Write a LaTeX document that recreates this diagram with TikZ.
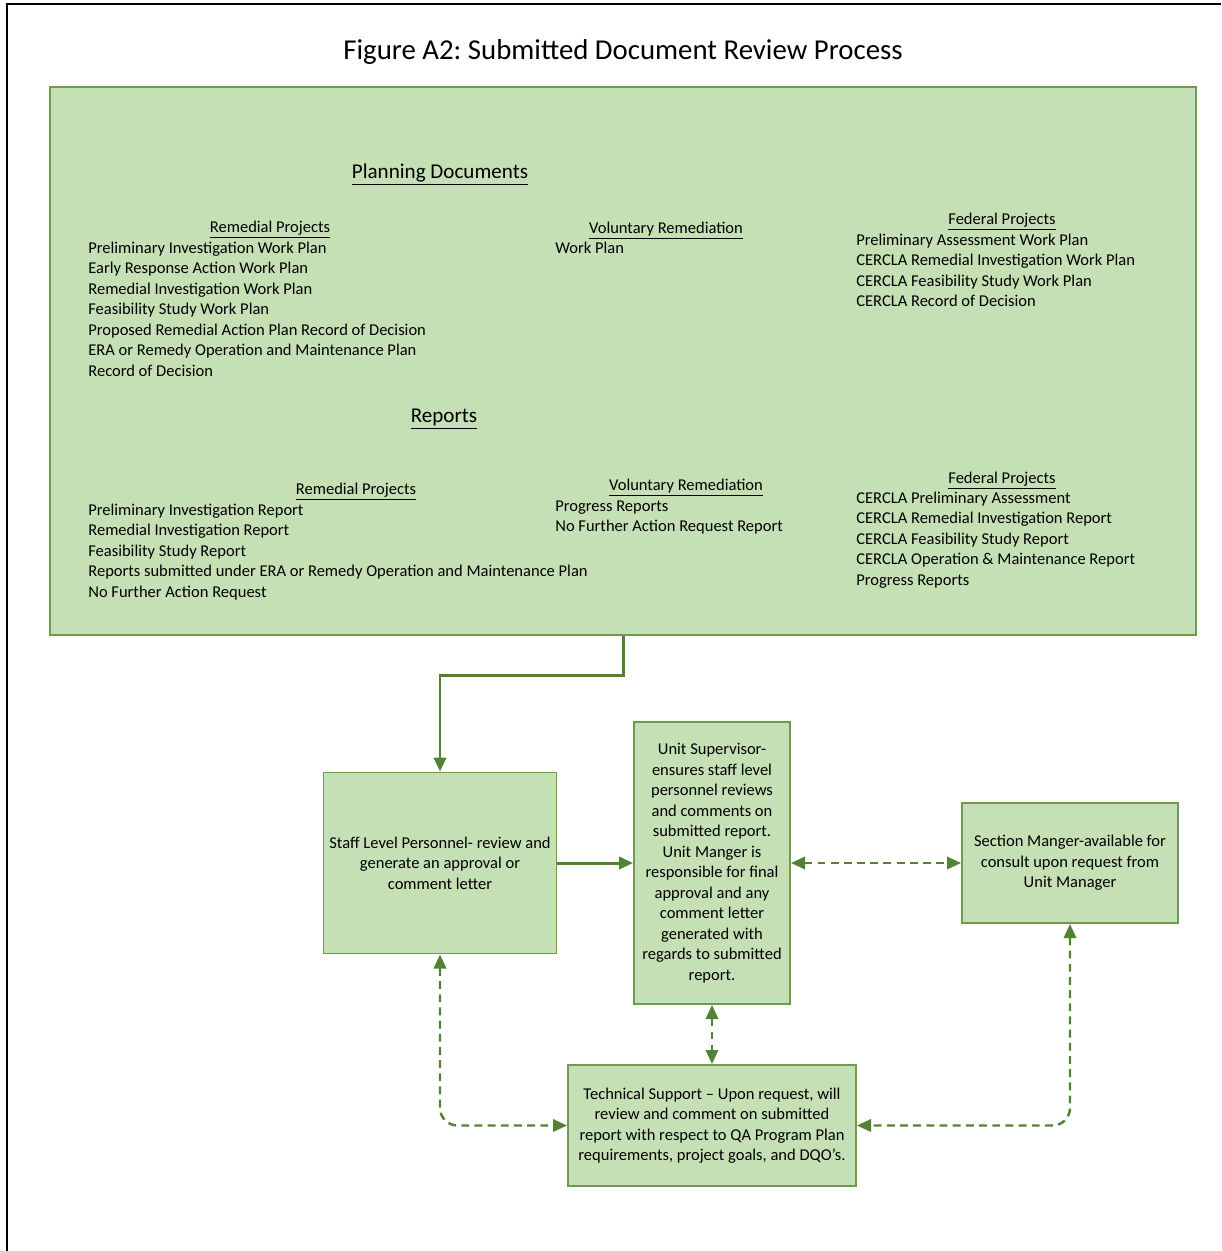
\documentclass[tikz,border=0pt]{standalone}
\usepackage{fontspec}
\setmainfont{Carlito}
\usepackage{xcolor}
\usetikzlibrary{calc,positioning,arrows.meta}

\definecolor{boxfill}{HTML}{C5E0B4}
\definecolor{boxline}{HTML}{6E9B4E}
\definecolor{arrowgreen}{HTML}{548235}

\tikzset{
  lst/.style={anchor=base west,align=left,inner sep=0pt,font=\fontsize{9.4}{11.66}\selectfont},
  subhead/.style={anchor=base,inner sep=0pt,font=\fontsize{9.4}{11.66}\selectfont},
  mainhead/.style={anchor=base,inner sep=0pt,font=\fontsize{12}{14}\selectfont},
  stepbox/.style={draw=boxline,fill=boxfill,line width=1.1pt,align=center,inner sep=2pt,font=\fontsize{9.4}{11.66}\selectfont},
  flow/.style={draw=arrowgreen,line width=1.7pt,-{Triangle[length=8pt,width=7pt]}},
  consult/.style={draw=arrowgreen,line width=1.4pt,dash pattern=on 4.5pt off 3pt,{Triangle[length=8pt,width=7pt]}-{Triangle[length=8pt,width=7pt]}}
}

\begin{document}
\frenchspacing
\begin{tikzpicture}[x=0.02cm,y=-0.02cm]
	\useasboundingbox (0,0) rectangle (1221,1251);
	\draw[line width=1.6pt] (7,1251) -- (7,4) -- (1221,4);
	\node[font=\fontsize{16.4}{19}\selectfont,anchor=base] (title) at (623,59) {Figure A2: Submitted Document Review Process};
	
	% documents block
	\node[draw=boxline,fill=boxfill,line width=1.1pt,minimum width=22.92cm,minimum height=10.96cm,inner sep=0pt] (docs) at (623,361) {};
	\node[mainhead] (planhead) at (440,178) {\underline{Planning Documents}};
	\node[subhead] (planremhead) at (270,232) {\underline{Remedial Projects}};
	\node[lst] (planrem) at (88,376) {Preliminary Investigation Work Plan\\Early Response Action Work Plan\\Remedial Investigation Work Plan\\Feasibility Study Work Plan\\Proposed Remedial Action Plan Record of Decision\\ERA or Remedy Operation and Maintenance Plan\\Record of Decision};
	\node[subhead] (planvolhead) at (666,233) {\underline{Voluntary Remediation}};
	\node[lst] (planvol) at (555,253) {Work Plan};
	\node[subhead] (planfedhead) at (1002,224) {\underline{Federal Projects}};
	\node[lst] (planfed) at (856,306.5) {Preliminary Assessment Work Plan\\CERCLA Remedial Investigation Work Plan\\CERCLA Feasibility Study Work Plan\\CERCLA Record of Decision};
	
	\node[mainhead] (rephead) at (444,422) {\underline{Reports}};
	\node[subhead] (repremhead) at (356,494) {\underline{Remedial Projects}};
	\node[lst] (reprem) at (88,597) {Preliminary Investigation Report\\Remedial Investigation Report\\Feasibility Study Report\\Reports submitted under ERA or Remedy Operation and Maintenance Plan\\No Further Action Request};
	\node[subhead] (repvolhead) at (686,490) {\underline{Voluntary Remediation}};
	\node[lst] (repvol) at (555,531.5) {Progress Reports\\No Further Action Request Report};
	\node[subhead] (repfedhead) at (1002,483) {\underline{Federal Projects}};
	\node[lst] (repfed) at (856,585) {CERCLA Preliminary Assessment\\CERCLA Remedial Investigation Report\\CERCLA Feasibility Study Report\\CERCLA Operation \& Maintenance Report\\Progress Reports};
	
	% review steps
	\node[stepbox,minimum width=4.66cm,minimum height=3.62cm] (staff) at (440,863) {Staff Level Personnel- review and\\generate an approval or\\comment letter};
	\node[stepbox,minimum width=3.12cm,minimum height=5.64cm] (unitsup) at (712,863) {Unit Supervisor-\\ensures staff level\\personnel reviews\\and comments on\\submitted report.\\Unit Manger is\\responsible for final\\approval and any\\comment letter\\generated with\\regards to submitted\\report.};
	\node[stepbox,minimum width=4.32cm,minimum height=2.4cm] (secman) at (1070,863) {Section Manger-available for\\consult upon request from\\Unit Manager};
	\node[stepbox,minimum width=5.76cm,minimum height=2.42cm] (techsup) at (712,1125.5) {Technical Support -- Upon request, will\\review and comment on submitted\\report with respect to QA Program Plan\\requirements, project goals, and DQO’s.};
	
	\draw[flow] (docs.south) -- ++(0,40) -| (staff.north);
	\draw[flow] (staff.east) -- (unitsup.west);
	\draw[consult] (unitsup.east) -- (secman.west);
	\draw[consult] (unitsup.south) -- (techsup.north);
	\draw[consult,rounded corners=10pt] (staff.south) |- (techsup.west);
	\draw[consult,rounded corners=10pt] (secman.south) |- (techsup.east);
\end{tikzpicture}
\end{document}
